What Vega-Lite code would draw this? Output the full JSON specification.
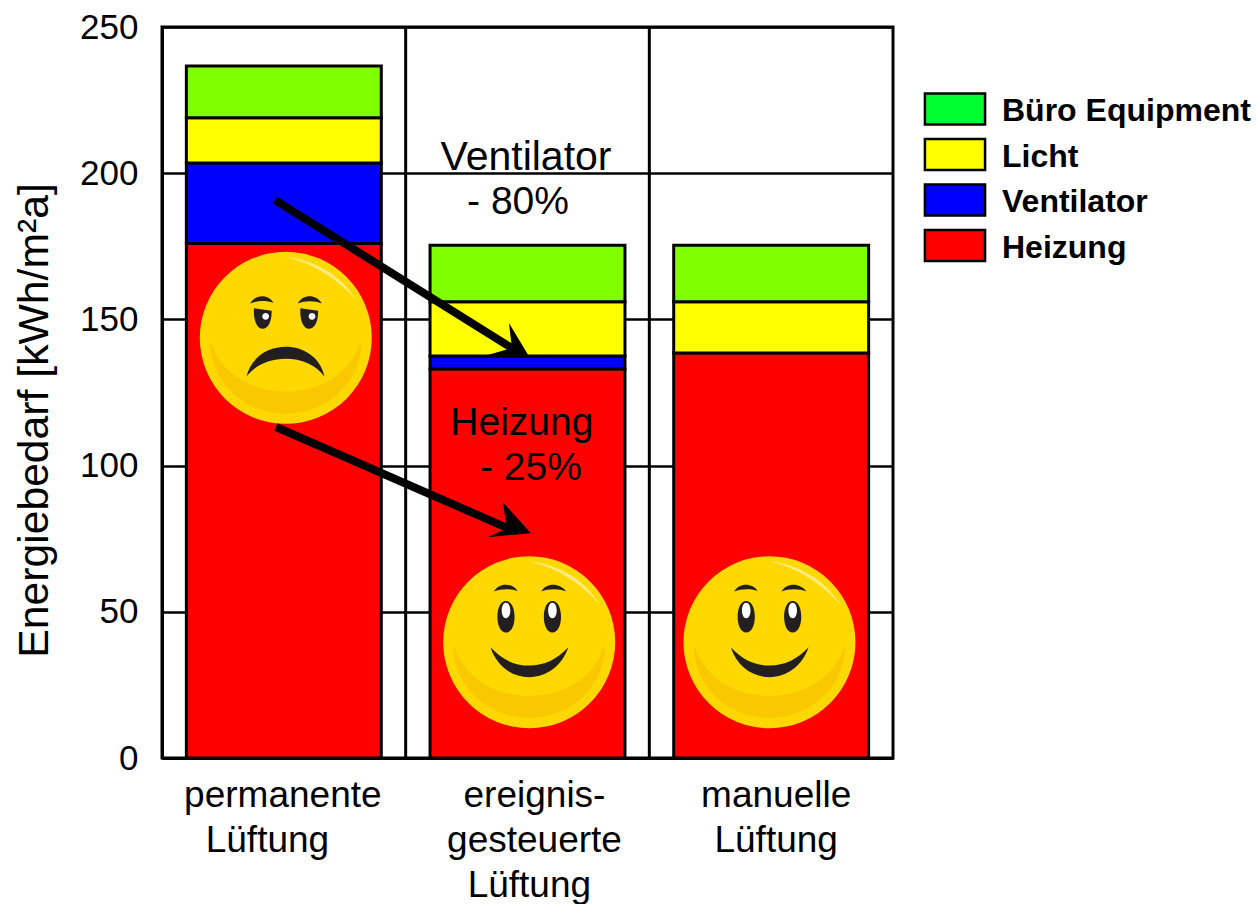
{
"$schema":"https://vega.github.io/schema/vega-lite/v6.json",
"width":731,"height":731,
"autosize":{"type":"none"},
"padding":{"left":162,"top":27,"right":364,"bottom":146},
"background":"white",
"view":{"stroke":"black","strokeWidth":3},
"config":{"font":"Liberation Sans"},
"datasets":{
"bars":[
{"Fall":"permanente|Lüftung\u00a0\u00a0\u00a0\u200b","Art":"Heizung","rank":1,"Wert":176},
{"Fall":"permanente|Lüftung\u00a0\u00a0\u00a0\u200b","Art":"Ventilator","rank":2,"Wert":27.5},
{"Fall":"permanente|Lüftung\u00a0\u00a0\u00a0\u200b","Art":"Licht","rank":3,"Wert":15.5},
{"Fall":"permanente|Lüftung\u00a0\u00a0\u00a0\u200b","Art":"Büro Equipment","rank":4,"Wert":17.7},
{"Fall":"ereignis-|gesteuerte|Lüftung\u00a0\u200b","Art":"Heizung","rank":1,"Wert":133},
{"Fall":"ereignis-|gesteuerte|Lüftung\u00a0\u200b","Art":"Ventilator","rank":2,"Wert":4.5},
{"Fall":"ereignis-|gesteuerte|Lüftung\u00a0\u200b","Art":"Licht","rank":3,"Wert":18.5},
{"Fall":"ereignis-|gesteuerte|Lüftung\u00a0\u200b","Art":"Büro Equipment","rank":4,"Wert":19.4},
{"Fall":"manuelle|Lüftung","Art":"Heizung","rank":1,"Wert":138.5},
{"Fall":"manuelle|Lüftung","Art":"Licht","rank":3,"Wert":17.5},
{"Fall":"manuelle|Lüftung","Art":"Büro Equipment","rank":4,"Wert":19.4}
],
"faces":[
{"mood":"sad","px":0.508,"py":143.7},
{"mood":"happy","px":1.507,"py":39.6},
{"mood":"happy","px":2.493,"py":39.6}
],
"arrows":[
{"id":"a","x0":0.464,"y0":190.8,"x1":1.436,"y1":140.2,"tx":1.51,"ty":136.8},
{"id":"b","x0":0.468,"y0":113.2,"x1":1.416,"y1":78.7,"tx":1.514,"ty":76.9}
],
"notes":[
{"t":"Ventilator","px":1.494,"py":201},
{"t":"- 80%","px":1.461,"py":186},
{"t":"Heizung","px":1.477,"py":110.6},
{"t":"- 25%","px":1.514,"py":95}
]
},
"resolve":{"scale":{"x":"independent","color":"independent"},"axis":{"x":"independent"},"legend":{"color":"independent"}},
"layer":[
{"data":{"values":[{"g":1},{"g":2}]},"mark":{"type":"rule","color":"black","strokeWidth":3},
 "encoding":{"x":{"field":"g","type":"quantitative","scale":{"domain":[0,3]},"axis":null}}},
{"data":{"name":"bars"},"mark":{"type":"bar","stroke":"black","strokeWidth":3},
 "encoding":{
 "x":{"field":"Fall","type":"nominal","sort":null,
  "scale":{"paddingInner":0.2,"paddingOuter":0.1},
  "axis":{"title":null,"labelAngle":0,"ticks":false,"domain":true,"domainColor":"black","domainWidth":3,"labelFontSize":37,"labelColor":"black","labelPadding":19,"labelLineHeight":45,"labelExpr":"split(datum.label,'|')","labelOverlap":false,"labelBound":false,"labelLimit":400,"grid":false,"labelBaseline":"top",
   "encoding":{"labels":{"dx":{"value":{"signal":"datum.index==0?-1:datum.index==1?5:7"}}}}}},
 "y":{"field":"Wert","type":"quantitative","stack":"zero","scale":{"domain":[0,250],"nice":false},
  "axis":{"title":"Energiebedarf [kWh/m²a]","titleFontSize":42.7,"titleFontWeight":"normal","titleColor":"black","titlePadding":23,"titleY":393,"values":[0,50,100,150,200,250],"grid":true,"gridColor":"black","gridWidth":2.5,"gridOpacity":1,"domain":true,"domainColor":"black","domainWidth":3,"ticks":false,"labelFontSize":35,"labelColor":"black","labelPadding":24}},
 "order":{"field":"rank","type":"quantitative"},
 "color":{"field":"Art","type":"nominal",
  "scale":{"domain":["Büro Equipment","Licht","Ventilator","Heizung"],"range":["#80ff00","#ffff00","#0000ff","#ff0000"]},
  "legend":null}
 }},
{"data":{"name":"bars"},"mark":{"type":"bar","stroke":"black","strokeWidth":3,"opacity":0},
 "encoding":{
 "x":{"field":"Fall","type":"nominal","sort":null,"scale":{"paddingInner":0.2,"paddingOuter":0.1},"axis":null},
 "y":{"field":"Wert","type":"quantitative","stack":"zero"},
 "order":{"field":"rank","type":"quantitative"},
 "color":{"field":"Art","type":"nominal",
  "scale":{"domain":["Büro Equipment","Licht","Ventilator","Heizung"],"range":["#00ff30","#ffff00","#0000ff","#ff0000"]},
  "legend":{"title":null,"orient":"none","legendX":776,"legendY":65,"padding":0,"symbolType":"M-1.94,-1H1.94V1H-1.94Z","symbolSize":961,"symbolStrokeWidth":2.5,"symbolStrokeColor":"black","symbolOpacity":1,"labelFontSize":32,"labelFontWeight":"bold","labelColor":"black","labelOffset":30,"rowPadding":3.5,"labelLimit":400,
   "encoding":{"labels":{"dy":{"value":2}},"symbols":{"stroke":{"value":"black"},"opacity":{"value":1}}}}}
 }},
{"data":{"name":"faces"},"mark":{"type":"point","filled":true,"opacity":1,"strokeWidth":0,"fill":"#ffd800","shape":"circle","size":29584},
 "encoding":{"x":{"field":"px","type":"quantitative","scale":{"domain":[0,3]},"axis":null},"y":{"field":"py","type":"quantitative"}}},
{"data":{"name":"faces"},"mark":{"type":"point","filled":true,"opacity":1,"strokeWidth":0,"fill":"#fac800","size":29584,"shape":"M-.88,.03C-.88,.55 -.45,.88 0,.88C.45,.88 .88,.55 .88,.03C.75,.42 .4,.625 0,.625C-.4,.625 -.75,.42 -.88,.03Z"},
 "encoding":{"x":{"field":"px","type":"quantitative","scale":{"domain":[0,3]},"axis":null},"y":{"field":"py","type":"quantitative"}}},
{"data":{"name":"faces"},"mark":{"type":"point","filled":true,"opacity":1,"strokeWidth":0,"fill":"#ffeb80","size":29584,"shape":"M.01,-.94C.35,-.9 .65,-.72 .82,-.44C.6,-.68 .35,-.85 .01,-.94Z"},
 "encoding":{"x":{"field":"px","type":"quantitative","scale":{"domain":[0,3]},"axis":null},"y":{"field":"py","type":"quantitative"}}},
{"data":{"name":"faces"},"transform":[{"filter":"datum.mood==='happy'"}],"mark":{"type":"point","filled":true,"opacity":1,"strokeWidth":0,"fill":"#231f20","size":29584,
 "shape":"M-.45,.06C-.38,.28 -.2,.406 0,.406C.2,.406 .38,.28 .455,.06C.32,.2 .18,.272 0,.272C-.18,.272 -.32,.2 -.45,.06ZM-.37,-.295C-.37,-.4 -.33,-.478 -.27,-.478C-.21,-.478 -.17,-.4 -.17,-.295C-.17,-.19 -.21,-.112 -.27,-.112C-.33,-.112 -.37,-.19 -.37,-.295ZM.17,-.295C.17,-.4 .21,-.478 .27,-.478C.33,-.478 .37,-.4 .37,-.295C.37,-.19 .33,-.112 .27,-.112C.21,-.112 .17,-.19 .17,-.295ZM-.41,-.59C-.36,-.69 -.2,-.7 -.135,-.594C-.2,-.625 -.33,-.625 -.41,-.59ZM.14,-.59C.2,-.7 .36,-.69 .43,-.59C.35,-.625 .22,-.625 .14,-.59Z"},
 "encoding":{"x":{"field":"px","type":"quantitative","scale":{"domain":[0,3]},"axis":null},"y":{"field":"py","type":"quantitative"}}},
{"data":{"name":"faces"},"transform":[{"filter":"datum.mood==='happy'"}],"mark":{"type":"point","filled":true,"opacity":1,"strokeWidth":0,"fill":"white","size":29584,
 "shape":"M-.32,-.37C-.32,-.42 -.3,-.46 -.27,-.46C-.24,-.46 -.22,-.42 -.22,-.37C-.22,-.32 -.24,-.28 -.27,-.28C-.3,-.28 -.32,-.32 -.32,-.37ZM.22,-.37C.22,-.42 .24,-.46 .27,-.46C.3,-.46 .32,-.42 .32,-.37C.32,-.32 .3,-.28 .27,-.28C.24,-.28 .22,-.32 .22,-.37Z"},
 "encoding":{"x":{"field":"px","type":"quantitative","scale":{"domain":[0,3]},"axis":null},"y":{"field":"py","type":"quantitative"}}},
{"data":{"name":"faces"},"transform":[{"filter":"datum.mood==='sad'"}],"mark":{"type":"point","filled":true,"opacity":1,"strokeWidth":0,"fill":"#231f20","size":29584,
 "shape":"M-.457,.45C-.4,.22 -.2,.105 0,.105C.2,.105 .4,.22 .45,.45C.35,.31 .18,.242 0,.242C-.18,.242 -.35,.31 -.457,.45ZM-.37,-.345L-.165,-.316C-.16,-.2 -.2,-.105 -.27,-.105C-.34,-.105 -.38,-.22 -.37,-.345ZM.17,-.345L.375,-.316C.38,-.2 .34,-.105 .27,-.105C.2,-.105 .16,-.22 .17,-.345ZM-.414,-.4C-.35,-.51 -.2,-.51 -.144,-.406C-.22,-.435 -.33,-.435 -.414,-.4ZM.14,-.4C.2,-.51 .35,-.51 .42,-.4C.34,-.435 .22,-.435 .14,-.4Z"},
 "encoding":{"x":{"field":"px","type":"quantitative","scale":{"domain":[0,3]},"axis":null},"y":{"field":"py","type":"quantitative"}}},
{"data":{"name":"faces"},"transform":[{"filter":"datum.mood==='sad'"}],"mark":{"type":"point","filled":true,"opacity":1,"strokeWidth":0,"fill":"white","size":29584,
 "shape":"M-.274,-.25C-.274,-.272 -.256,-.29 -.234,-.29C-.212,-.29 -.194,-.272 -.194,-.25C-.194,-.228 -.212,-.21 -.234,-.21C-.256,-.21 -.274,-.228 -.274,-.25ZM.265,-.25C.265,-.272 .283,-.29 .305,-.29C.327,-.29 .345,-.272 .345,-.25C.345,-.228 .327,-.21 .305,-.21C.283,-.21 .265,-.228 .265,-.25Z"},
 "encoding":{"x":{"field":"px","type":"quantitative","scale":{"domain":[0,3]},"axis":null},"y":{"field":"py","type":"quantitative"}}},
{"data":{"name":"arrows"},"mark":{"type":"rule","color":"black","strokeWidth":8},
 "encoding":{"x":{"field":"x0","type":"quantitative","scale":{"domain":[0,3]},"axis":null},"x2":{"field":"x1"},"y":{"field":"y0","type":"quantitative"},"y2":{"field":"y1"}}},
{"data":{"name":"arrows"},"transform":[{"filter":"datum.id==='a'"}],"mark":{"type":"point","filled":true,"opacity":1,"strokeWidth":0,"fill":"black","size":4,"shape":"M0,0L-21,-35L-18,-10L-42,-3Z"},
 "encoding":{"x":{"field":"tx","type":"quantitative","scale":{"domain":[0,3]},"axis":null},"y":{"field":"ty","type":"quantitative"}}},
{"data":{"name":"arrows"},"transform":[{"filter":"datum.id==='b'"}],"mark":{"type":"point","filled":true,"opacity":1,"strokeWidth":0,"fill":"black","size":4,"shape":"M0,0L-28,-31L-24,-5L-43,4Z"},
 "encoding":{"x":{"field":"tx","type":"quantitative","scale":{"domain":[0,3]},"axis":null},"y":{"field":"ty","type":"quantitative"}}},
{"data":{"name":"notes"},"transform":[{"filter":"datum.t!=='Ventilator'"}],"mark":{"type":"text","fontSize":39,"color":"black","align":"center","baseline":"alphabetic"},
 "encoding":{"x":{"field":"px","type":"quantitative","scale":{"domain":[0,3]},"axis":null},"y":{"field":"py","type":"quantitative"},"text":{"field":"t"}}},
{"data":{"name":"notes"},"transform":[{"filter":"datum.t==='Ventilator'"}],"mark":{"type":"text","fontSize":41,"color":"black","align":"center","baseline":"alphabetic"},
 "encoding":{"x":{"field":"px","type":"quantitative","scale":{"domain":[0,3]},"axis":null},"y":{"field":"py","type":"quantitative"},"text":{"field":"t"}}}
]
}
